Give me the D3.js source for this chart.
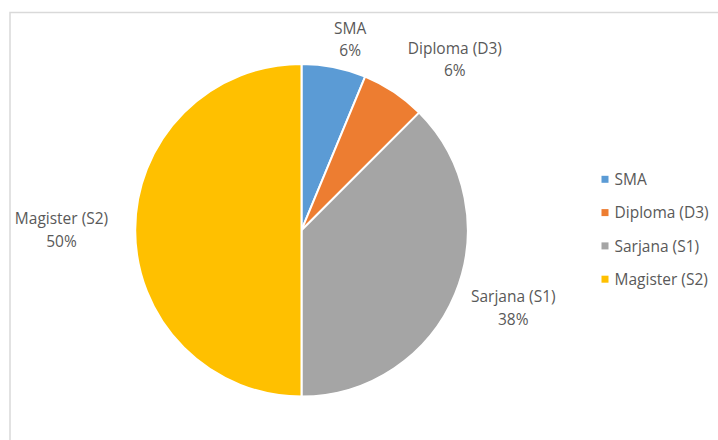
<!DOCTYPE html>
<html>
<head>
<meta charset="utf-8">
<script src="https://cdn.jsdelivr.net/npm/d3@7"></script>
<style>
  html, body { margin: 0; padding: 0; background: #ffffff; }
  svg { display: block; }
  text { font-family: "Open Sans", "Liberation Sans", sans-serif; fill: #595959; }
</style>
</head>
<body>
<svg id="chart" width="718" height="440"></svg>
<script>
// Education level of respondents
const categories = ["SMA", "Diploma (D3)", "Sarjana (S1)", "Magister (S2)"];
const counts = [1, 1, 6, 8];
const colors = ["#5B9BD5", "#ED7D31", "#A5A5A5", "#FFC000"];

const W = 718, H = 440;
const cx = 301.5, cy = 230.2, R = 166.3;
const fontSize = 15.5, lineGap = 22.5, capH = 11;
// labels sit just outside the rim on the slice bisector; the gap and
// small per-label nudges keep neighbouring labels apart
const labelGap = 12;
const labelNudge = [[10, 3.5], [32, 11], [5, -8], [-15, 0]];

const svg = d3.select("#chart");

// chart area frame
svg.append("rect")
  .attr("x", 10).attr("y", 12.5)
  .attr("width", W + 20).attr("height", H + 20)
  .attr("fill", "#ffffff")
  .attr("stroke", "#d9d9d9").attr("stroke-width", 1.5);

const total = d3.sum(counts);
const data = categories.map((c, i) => ({ name: c, value: counts[i], color: colors[i] }));

const pie = d3.pie().value(d => d.value).sort(null);
const arc = d3.arc().innerRadius(0).outerRadius(R);
const arcs = pie(data);

const g = svg.append("g").attr("transform", `translate(${cx},${cy})`);

g.selectAll("path.slice")
  .data(arcs)
  .join("path")
  .attr("class", "slice")
  .attr("d", arc)
  .attr("fill", d => d.data.color)
  .attr("stroke", "#ffffff")
  .attr("stroke-width", 2)
  .attr("stroke-linejoin", "round");

const pct = d3.format(".0%");

// two-line data labels: category name over percentage
const labels = g.selectAll("g.label")
  .data(arcs)
  .join("g")
  .attr("class", "label");

labels.each(function (d, i) {
  const sel = d3.select(this);
  const t = sel.append("text")
    .attr("text-anchor", "middle")
    .attr("font-size", fontSize);
  const b1 = -(lineGap - capH) / 2;
  t.append("tspan").attr("x", 0).attr("y", b1).text(d.data.name);
  t.append("tspan").attr("x", 0).attr("y", b1 + lineGap).text(pct(d.data.value / total));
  const hw = t.node().getComputedTextLength ? t.node().getBBox().width / 2 : 0;
  const hh = (lineGap + capH) / 2;
  const a = (d.startAngle + d.endAngle) / 2;
  const ux = Math.sin(a), uy = -Math.cos(a);
  const ext = Math.abs(hw * ux) + Math.abs(hh * uy);
  const dist = R + labelGap + ext;
  const [nx, ny] = labelNudge[i];
  sel.attr("transform", `translate(${dist * ux + nx},${dist * uy + ny})`);
});

// legend
const rowH = 33.3;
const legend = svg.append("g").attr("transform", "translate(601.5,185)");
const items = legend.selectAll("g.item")
  .data(data)
  .join("g")
  .attr("class", "item")
  .attr("transform", (d, i) => `translate(0,${i * rowH})`);

items.append("rect")
  .attr("x", 0).attr("y", -9.2)
  .attr("width", 7).attr("height", 7)
  .attr("fill", d => d.color);

items.append("text")
  .attr("x", 13).attr("y", 0)
  .attr("font-size", fontSize)
  .text(d => d.name);
</script>
</body>
</html>
